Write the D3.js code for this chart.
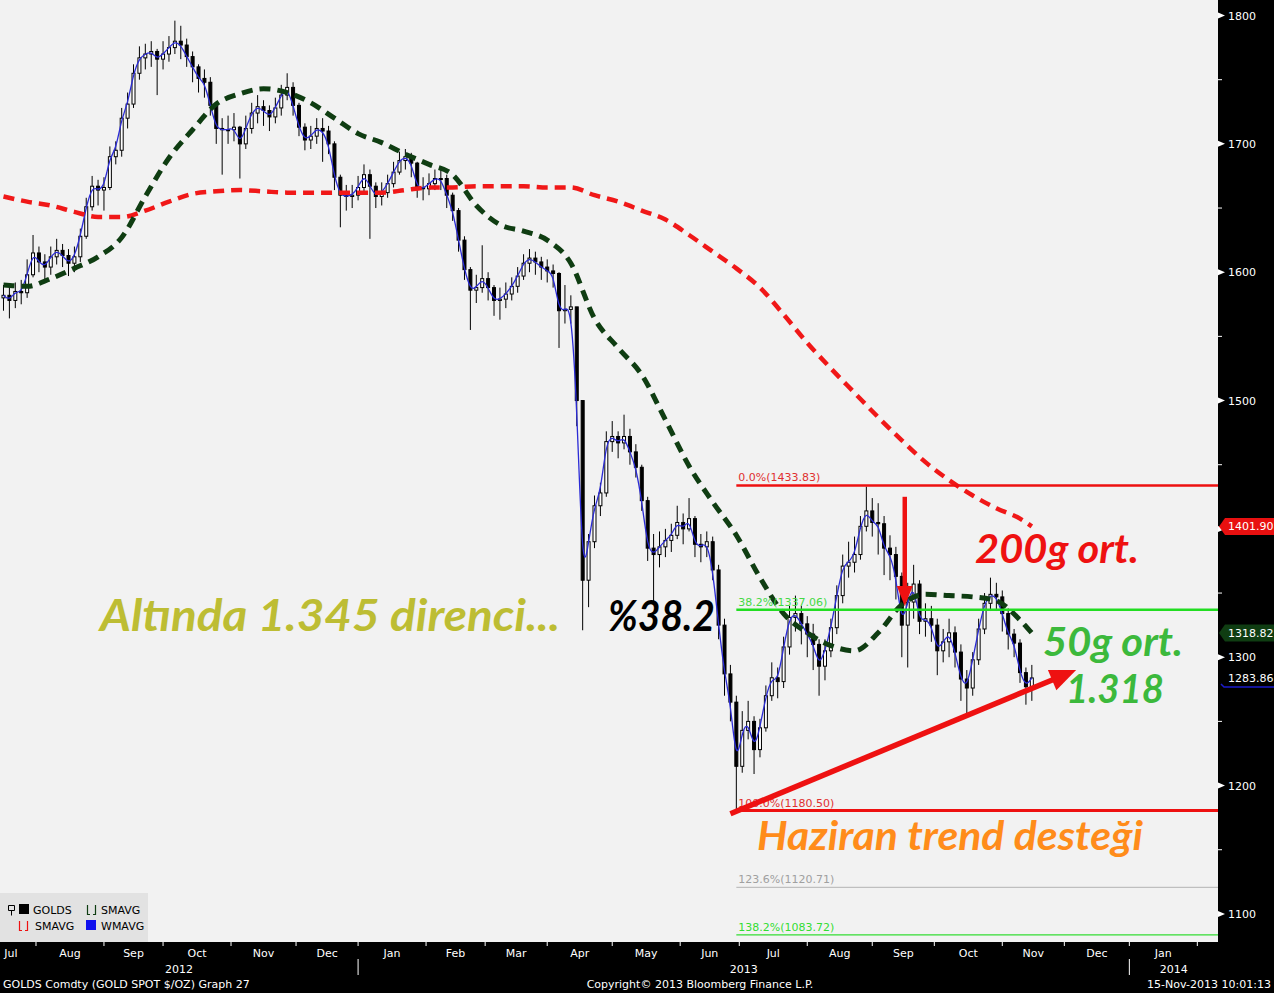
<!DOCTYPE html>
<html><head><meta charset="utf-8">
<script src="https://cdn.jsdelivr.net/npm/d3@7"></script>
<style>body{margin:0;background:#000;}svg{display:block}</style>
</head><body><svg id="c" width="1274" height="993"></svg>
<script>
// ---------------- DATA ----------------
// one candle per two trading days, Jul 17 2012 .. Nov 15 2013
const firstOpen = 1580;
const closes = [1582,1578,1585,1584,1598,1615,1608,1604,1612,1617,1613,1607,1612,1628,1651,1667,1664,1666,1690,1695,
1720,1731,1755,1767,1770,1772,1766,1770,1775,1780,1777,1768,1760,1751,1748,1730,1712,1711,1711,1713,
1700,1712,1724,1729,1726,1721,1728,1738,1744,1730,1713,1703,1706,1712,1710,1700,1674,1660,1659,1660,
1666,1676,1667,1659,1662,1669,1678,1687,1690,1685,1666,1665,1669,1673,1673,1660,1648,1625,1602,1586,
1588,1595,1588,1578,1579,1583,1589,1597,1607,1611,1608,1604,1601,1599,1570,1571,1573,1500,1360,1390,
1418,1428,1468,1472,1467,1472,1460,1448,1422,1385,1380,1386,1391,1395,1405,1400,1408,1388,1386,1390,
1368,1325,1287,1265,1215,1243,1250,1228,1245,1270,1284,1281,1308,1331,1334,1326,1318,1310,1293,1305,
1323,1348,1371,1374,1380,1402,1414,1405,1404,1385,1380,1363,1325,1343,1357,1328,1330,1325,1305,1312,
1319,1304,1283,1276,1298,1322,1342,1349,1347,1334,1318,1311,1288,1277,1283.86];
const highs = [1590,1588,1592,1594,1610,1629,1620,1614,1620,1626,1622,1618,1620,1634,1658,1675,1672,1674,1698,1702,
1728,1740,1762,1776,1778,1780,1774,1780,1784,1796,1792,1782,1772,1762,1758,1752,1732,1720,1722,1724,
1714,1722,1732,1738,1734,1730,1736,1746,1755,1748,1732,1716,1714,1720,1720,1714,1702,1676,1668,1668,
1675,1684,1680,1670,1670,1676,1686,1694,1696,1693,1686,1674,1677,1680,1680,1676,1662,1650,1628,1604,
1598,1621,1600,1590,1588,1592,1596,1604,1614,1618,1616,1612,1610,1606,1600,1590,1582,1570,1495,1396,
1426,1436,1476,1484,1476,1489,1478,1466,1450,1425,1396,1398,1400,1404,1418,1412,1424,1410,1396,1398,
1394,1372,1330,1294,1270,1258,1266,1254,1252,1278,1296,1292,1316,1340,1348,1340,1332,1326,1314,1314,
1330,1356,1380,1390,1394,1410,1433,1424,1420,1410,1395,1386,1366,1358,1372,1360,1342,1340,1330,1322,
1330,1324,1310,1290,1304,1330,1350,1362,1358,1352,1338,1322,1314,1292,1294];
const lows = [1570,1564,1572,1575,1580,1596,1600,1592,1598,1606,1604,1597,1600,1608,1626,1648,1652,1648,1664,1684,
1690,1712,1728,1750,1758,1760,1738,1758,1764,1770,1766,1760,1748,1740,1736,1722,1700,1676,1700,1702,
1673,1696,1708,1716,1714,1710,1716,1722,1734,1722,1706,1695,1696,1700,1686,1692,1664,1635,1648,1650,
1656,1662,1626,1650,1652,1658,1666,1676,1680,1674,1658,1656,1660,1664,1664,1650,1640,1616,1594,1555,
1576,1584,1578,1566,1563,1572,1578,1584,1594,1600,1598,1594,1592,1588,1541,1560,1560,1480,1321,1339,
1385,1410,1425,1460,1455,1462,1450,1440,1414,1375,1342,1370,1378,1382,1392,1388,1398,1378,1374,1378,
1360,1314,1270,1250,1180,1210,1236,1209,1222,1242,1266,1268,1276,1302,1320,1310,1300,1290,1270,1282,
1300,1318,1342,1362,1366,1376,1398,1394,1380,1364,1360,1345,1300,1292,1330,1318,1316,1312,1286,1296,
1300,1292,1266,1256,1270,1294,1318,1336,1336,1320,1306,1300,1280,1263,1266];
// moving averages sampled every 4 candles, plus the last candle
const maSampleStep = 4;
const sma50 = [1590,1589,1595,1603,1612,1627,1659,1689,1711,1731,1739,1743,1740,1732,1720,1708,1701,1692,1684,1676,
1652,1637,1632,1625,1607,1564,1541,1520,1485,1449,1421,1395,1362,1334,1319,1309,1305,1319,1341,1349,
1348,1347,1344,1329,1318.82];
const sma200 = [1659,1655,1652,1647,1643,1643,1648,1655,1661,1663,1664,1663,1662,1662,1662,1662,1662,1664,1666,1666,
1667,1667,1667,1666,1666,1660,1655,1648,1641,1629,1616,1603,1588,1567,1545,1525,1506,1487,1469,1452,
1438,1426,1416,1408,1401.90];
const yTickValues = [1100,1200,1300,1400,1500,1600,1700,1800];
const yMinorValues = [1150,1250,1350,1450,1550,1650,1750];
const fibNames = ["0.0%","38.2%","100.0%","123.6%","138.2%"];
const fibValues = [1433.83,1337.06,1180.50,1120.71,1083.72];
const legendNames = ["GOLDS","SMAVG","SMAVG","WMAVG"];

// ---------------- LAYOUT ----------------
const W=1274,H=993, plotR=1218, plotB=942;
const svg=d3.select("#c");
const day0=new Date(2012,6,16);
const cal=[];
for(let d=new Date(2012,5,1); d<=new Date(2015,1,28); d=d3.timeDay.offset(d,1)){
  const wd=d.getDay(); if(wd!==0&&wd!==6) cal.push(new Date(d));
}
const idx0=cal.findIndex(d=>+d===+day0);
const tIndex=d=>cal.findIndex(c=>+c>=+d)-idx0;

const x=d3.scaleLinear().domain([-0.18,412]).range([0,plotR]);
const y=d3.scaleLinear().domain([1078.1,1812.1]).range([plotB,0]);

svg.append("rect").attr("width",W).attr("height",H).attr("fill","#000");
svg.append("rect").attr("width",plotR).attr("height",plotB).attr("fill","#f2f2f2");

const plot=svg.append("g");
plot.append("clipPath").attr("id","clip").append("rect").attr("width",plotR).attr("height",plotB);
const g=plot.append("g").attr("clip-path","url(#clip)");

// candles
const candles=closes.map((c,i)=>({t:2*i+1,o:i?closes[i-1]:firstOpen,c,h:highs[i],l:lows[i]}));
const cg=g.append("g");
cg.selectAll("line").data(candles).join("line")
  .attr("x1",d=>x(d.t)).attr("x2",d=>x(d.t)).attr("y1",d=>y(d.h)).attr("y2",d=>y(d.l))
  .attr("stroke","#000").attr("stroke-width",1);
cg.selectAll("rect").data(candles).join("rect")
  .attr("x",d=>x(d.t)-1.5).attr("width",3)
  .attr("y",d=>y(Math.max(d.o,d.c))).attr("height",d=>Math.max(1,Math.abs(y(d.o)-y(d.c))))
  .attr("fill",d=>d.c>=d.o?"#fff":"#000").attr("stroke","#000").attr("stroke-width",1);

// WMAVG (blue) through closes
g.append("path").datum(candles)
  .attr("d",d3.line().x(d=>x(d.t)).y(d=>y(d.c)).curve(d3.curveBasis))
  .attr("fill","none").attr("stroke","#2b2bd6").attr("stroke-width",1.3);

// moving averages
function maPts(arr){
  return arr.map((v,k)=>{const ci=Math.min(k*maSampleStep,closes.length-1);return {t:2*ci+1,v};});
}
g.append("path").datum(maPts(sma200))
  .attr("d",d3.line().x(d=>x(d.t)).y(d=>y(d.v)).curve(d3.curveMonotoneX))
  .attr("fill","none").attr("stroke","#f01818").attr("stroke-width",4.5).attr("stroke-dasharray","11,7");
g.append("path").datum(maPts(sma50))
  .attr("d",d3.line().x(d=>x(d.t)).y(d=>y(d.v)).curve(d3.curveMonotoneX))
  .attr("fill","none").attr("stroke","#0f3d12").attr("stroke-width",5).attr("stroke-dasharray","11,7");

// fibonacci levels
const fibColors=["#ee1111","#22dd22","#ee1111","#b4b4b4","#33dd33"];
const fibText=["#e03030","#44d944","#e03030","#a0a0a0","#33dd33"];
const fibW=[2.5,2.5,3,1,1.2];
const fibStart=x(tIndex(new Date(2013,5,28)));
fibValues.forEach((v,i)=>{
  g.append("line").attr("x1",fibStart).attr("x2",plotR).attr("y1",y(v)).attr("y2",y(v))
   .attr("stroke",fibColors[i]).attr("stroke-width",fibW[i]);
  g.append("text").attr("x",fibStart+2).attr("y",y(v)-4)
   .attr("font-family","DejaVu Sans").attr("font-size",11).attr("fill",fibText[i])
   .text(`${fibNames[i]}(${v.toFixed(2)})`);
});

// arrows
const red="#ee1111";
function arrow(x1,y1,x2,y2,w,hl,hw){
  const a=Math.atan2(y2-y1,x2-x1), bx=x2-hl*Math.cos(a), by=y2-hl*Math.sin(a);
  const px=-Math.sin(a)*hw/2, py=Math.cos(a)*hw/2;
  g.append("line").attr("x1",x1).attr("y1",y1).attr("x2",bx+Math.cos(a)*2).attr("y2",by+Math.sin(a)*2)
   .attr("stroke",red).attr("stroke-width",w);
  g.append("path").attr("d",`M${x2},${y2}L${bx+px},${by+py}L${bx-px},${by-py}Z`).attr("fill",red);
}
const vArrowT=tIndex(new Date(2013,8,17));
arrow(x(vArrowT),y(1425),x(vArrowT),y(1340),4.5,20,16);
arrow(x(tIndex(new Date(2013,5,26))),y(1178),x(tIndex(new Date(2013,11,6))),y(1290),5.5,26,22);

// annotation texts
const ann=[
 {t:"Altında 1.345 direnci...",x:100,y:631,w:460,s:44,c:"#bdbd33"},
 {t:"%38.2",x:608,y:631,w:107,s:42,c:"#000"},
 {t:"200g ort.",x:975,y:563,w:164,s:40,c:"#ee1111"},
 {t:"50g ort.",x:1043,y:656,w:140,s:40,c:"#3cb93c"},
 {t:"1.318",x:1066,y:703,w:98,s:40,c:"#3cb93c"},
 {t:"Haziran trend desteği",x:757,y:850,w:386,s:40,c:"#ff8c1a"}
];
svg.selectAll("text.ann").data(ann).join("text").attr("class","ann")
 .attr("x",d=>d.x).attr("y",d=>d.y).attr("font-family","Lato, 'Open Sans', sans-serif")
 .attr("font-weight","bold").attr("font-style","italic").attr("font-size",d=>d.s)
 .attr("fill",d=>d.c).attr("textLength",d=>d.w).attr("lengthAdjust","spacingAndGlyphs").text(d=>d.t);

// legend
const lg=svg.append("g").attr("font-family","DejaVu Sans").attr("font-size",11);
lg.append("rect").attr("x",0).attr("y",893).attr("width",148).attr("height",49).attr("fill","#e2e2e2");
lg.append("path").attr("d","M8.5,905.5h6v5h-6zM11.5,910.5v5").attr("fill","none").attr("stroke","#000");
lg.append("rect").attr("x",19).attr("y",904).attr("width",10).attr("height",10).attr("fill","#000");
lg.append("path").attr("d","M87.5,905v9.5h2.5M93,914.5h2.5v-9.5").attr("fill","none").attr("stroke","#0f3d12").attr("stroke-width",1.2);
lg.append("path").attr("d","M19.5,921v9.5h2.5M25,930.5h2.5v-9.5").attr("fill","none").attr("stroke","#ee1111").attr("stroke-width",1.2);
lg.append("rect").attr("x",86).attr("y",920).attr("width",10).attr("height",10).attr("fill","#1111ee");
[[33,914],[101,914],[35,930],[101,930]].forEach((p,i)=>
  lg.append("text").attr("x",p[0]).attr("y",p[1]).attr("fill","#000").text(legendNames[i]));

// right axis
const tagVals=[sma200[sma200.length-1],sma50[sma50.length-1]];
const shownTicks=yTickValues.filter(v=>tagVals.every(t=>Math.abs(y(v)-y(t))>12));
const ra=svg.append("g").attr("transform",`translate(${plotR},0)`).attr("font-family","DejaVu Sans").attr("font-size",11);
ra.append("g").call(d3.axisRight(y).tickValues(shownTicks).tickSize(0).tickPadding(10).tickFormat(d3.format("d")))
  .call(a=>{a.select(".domain").remove();a.selectAll("text").attr("fill","#fff").attr("font-family","DejaVu Sans").attr("font-size",11);});
ra.selectAll("path.tri").data(yTickValues).join("path").attr("class","tri")
  .attr("d",v=>`M0,${y(v)-3}L7,${y(v)}L0,${y(v)+3}Z`).attr("fill","#fff");
ra.selectAll("line.mn").data(yMinorValues).join("line").attr("class","mn")
  .attr("x1",0).attr("x2",4).attr("y1",v=>y(v)).attr("y2",v=>y(v)).attr("stroke","#fff");
function tag(v,fill){
  const yy=y(v);
  ra.append("path").attr("d",`M1,${yy}L7,${yy-8.5}H56V${yy+8.5}H7Z`).attr("fill",fill);
  ra.append("text").attr("x",10).attr("y",yy+4).attr("fill","#fff").text(v.toFixed(2));
}
tag(tagVals[0],"#e81010");
tag(tagVals[1],"#0f3d12");
const lastC=closes[closes.length-1];
ra.append("text").attr("x",10).attr("y",y(lastC)+4).attr("fill","#fff").text(lastC.toFixed(2));
ra.append("path").attr("d",`M3,${y(lastC)+6}L6,${y(lastC)+9}H56`).attr("fill","none").attr("stroke","#1b1bcc").attr("stroke-width",1.5);

// bottom axis
const ba=svg.append("g").attr("font-family","DejaVu Sans").attr("font-size",11).attr("fill","#fff");
const months=d3.timeMonth.range(new Date(2012,5,1),new Date(2014,3,1));
const mt=months.map(m=>({m,x:x(tIndex(m))}));
mt.forEach((d,k)=>{
  if(d.x>0&&d.x<plotR) ba.append("line").attr("x1",d.x).attr("x2",d.x).attr("y1",plotB).attr("y2",plotB+4).attr("stroke","#fff");
  if(k<mt.length-1){
    let cx=(d.x+mt[k+1].x)/2;
    if(cx<plotR-10 && mt[k+1].x>0){
      cx=Math.max(cx,11);
      ba.append("text").attr("x",cx).attr("y",957).attr("text-anchor","middle").text(d3.timeFormat("%b")(d.m));
    }
  }
});
[2012,2013,2014].forEach(yr=>{
  const s=x(tIndex(new Date(yr,0,1)));
  const e=Math.min(plotR,x(tIndex(new Date(yr+1,0,1))));
  ba.append("text").attr("x",(Math.max(0,s)+e)/2).attr("y",973).attr("text-anchor","middle").text(yr);
  if(s>0) ba.append("line").attr("x1",s).attr("x2",s).attr("y1",959).attr("y2",975).attr("stroke","#fff");
});
ba.append("text").attr("x",3).attr("y",988).text("GOLDS Comdty (GOLD SPOT $/OZ) Graph 27");
ba.append("text").attr("x",700).attr("y",988).attr("text-anchor","middle").text("Copyright© 2013 Bloomberg Finance L.P.");
ba.append("text").attr("x",1271).attr("y",988).attr("text-anchor","end").text("15-Nov-2013 10:01:13");
</script></body></html>
